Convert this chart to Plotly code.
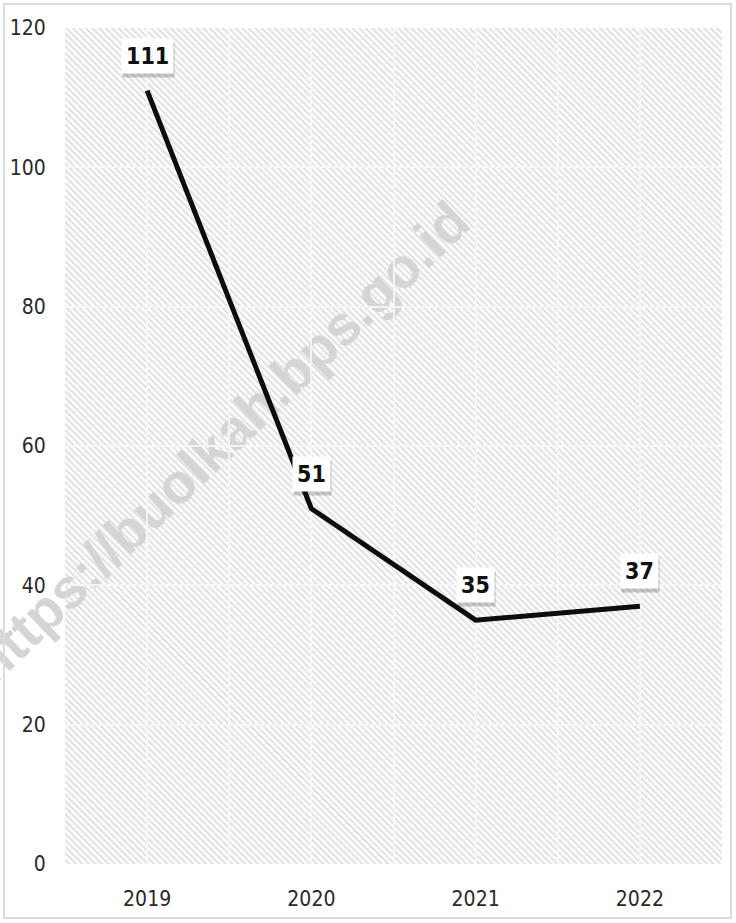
import base64
import plotly.graph_objects as go

# ---- data ----
years = [2019, 2020, 2021, 2022]
values = [111, 51, 35, 37]
y_ticks = [0, 20, 40, 60, 80, 100, 120]
watermark = "https://buolkah.bps.go.id"

W, H = 736, 923
PL, PR, PT, PB = 65, 722, 28, 864  # plot area pixels
pw, ph = PR - PL, PB - PT
XR = [years[0] - 0.5, years[-1] + 0.5]
YR = [y_ticks[0], y_ticks[-1]]

FONT = "DejaVu Sans Condensed, Liberation Sans Narrow, Arial Narrow, DejaVu Sans, sans-serif"

svg = (
    f"<svg xmlns='http://www.w3.org/2000/svg' width='{pw}' height='{ph}'>"
    "<defs><pattern id='p' width='4.6' height='4.6' patternUnits='userSpaceOnUse' "
    "patternTransform='rotate(-45)'>"
    "<rect width='4.6' height='4.6' fill='#fbfbfb'/>"
    "<rect width='1.8' height='4.6' fill='#e0e0e0'/></pattern></defs>"
    "<rect width='100%' height='100%' fill='url(#p)'/></svg>"
)
hatch_src = "data:image/svg+xml;base64," + base64.b64encode(svg.encode()).decode()

fig = go.Figure()
fig.add_trace(go.Scatter(
    x=years, y=values, mode="lines",
    line=dict(color="#0d0d0d", width=5),
    hoverinfo="skip", showlegend=False,
))

# labels with shadow
for xv, yv in zip(years, values):
    fig.add_annotation(
        x=xv, y=yv, text=f"<b>{yv}</b>", showarrow=False, yshift=31, xshift=1,
        font=dict(family=FONT, size=23, color="rgba(0,0,0,0)"),
        bgcolor="rgba(0,0,0,0.2)", borderpad=4,
    )
    fig.add_annotation(
        x=xv, y=yv, text=f"<b>{yv}</b>", showarrow=False, yshift=35,
        font=dict(family=FONT, size=23, color="#111111"),
        bgcolor="white", borderpad=4,
    )

# watermark (paper coords, below grid and traces)
def px_x(px):
    return px / W

def px_y(py):
    return 1 - py / H

fig.add_shape(
    type="line", xref="paper", yref="paper",
    x0=px_x(-28), y0=px_y(721), x1=px_x(508), y1=px_y(206),
    line=dict(color="rgba(0,0,0,0)", width=0),
    layer="below",
    label=dict(text=watermark, textposition="middle",
               font=dict(family="Liberation Sans, Arial, sans-serif", size=56,
                         color="#d5d5d5", weight="bold")),
)

# outer border
fig.add_shape(type="rect", xref="paper", yref="paper", x0=px_x(4), y0=px_y(918),
              x1=px_x(731), y1=px_y(4), line=dict(color="#dcdcdc", width=2),
              layer="above")

fig.add_layout_image(
    source=hatch_src, xref="paper", yref="paper", x=PL / W, y=1 - PT / H,
    sizex=pw / W, sizey=ph / H, xanchor="left", yanchor="top", sizing="stretch",
    layer="below",
)

GRID = "rgba(246,246,246,0.95)"
fig.update_layout(
    width=W, height=H,
    margin=dict(l=0, r=0, t=0, b=0, autoexpand=False),
    paper_bgcolor="white", plot_bgcolor="rgba(0,0,0,0)",
    showlegend=False,
    xaxis=dict(
        domain=[PL / W, PR / W], range=XR, automargin=False,
        tickvals=years, tickformat="d",
        showgrid=True, gridcolor=GRID, gridwidth=2,
        minor=dict(dtick=1, tick0=XR[0], showgrid=True,
                   gridcolor=GRID, gridwidth=2),
        zeroline=False, showline=False,
        ticks="outside", ticklen=16, tickcolor="rgba(0,0,0,0)",
        tickfont=dict(family=FONT, size=21, color="#2a2a2a"),
        fixedrange=True,
    ),
    yaxis=dict(
        domain=[1 - PB / H, 1 - PT / H], range=YR, automargin=False,
        tickvals=y_ticks,
        showgrid=True, gridcolor=GRID, gridwidth=2,
        zeroline=False, showline=False,
        ticks="outside", ticklen=14, tickcolor="rgba(0,0,0,0)",
        tickfont=dict(family=FONT, size=21, color="#2a2a2a"),
        fixedrange=True,
    ),
)

try:
    fig.update_xaxes(tickfont_stretch="condensed")
    fig.update_yaxes(tickfont_stretch="condensed")
    fig.update_annotations(font_stretch="condensed")
except Exception:
    pass

fig.write_html("out.html", config={"displayModeBar": False},
               post_script="document.body.style.margin='0px';")
